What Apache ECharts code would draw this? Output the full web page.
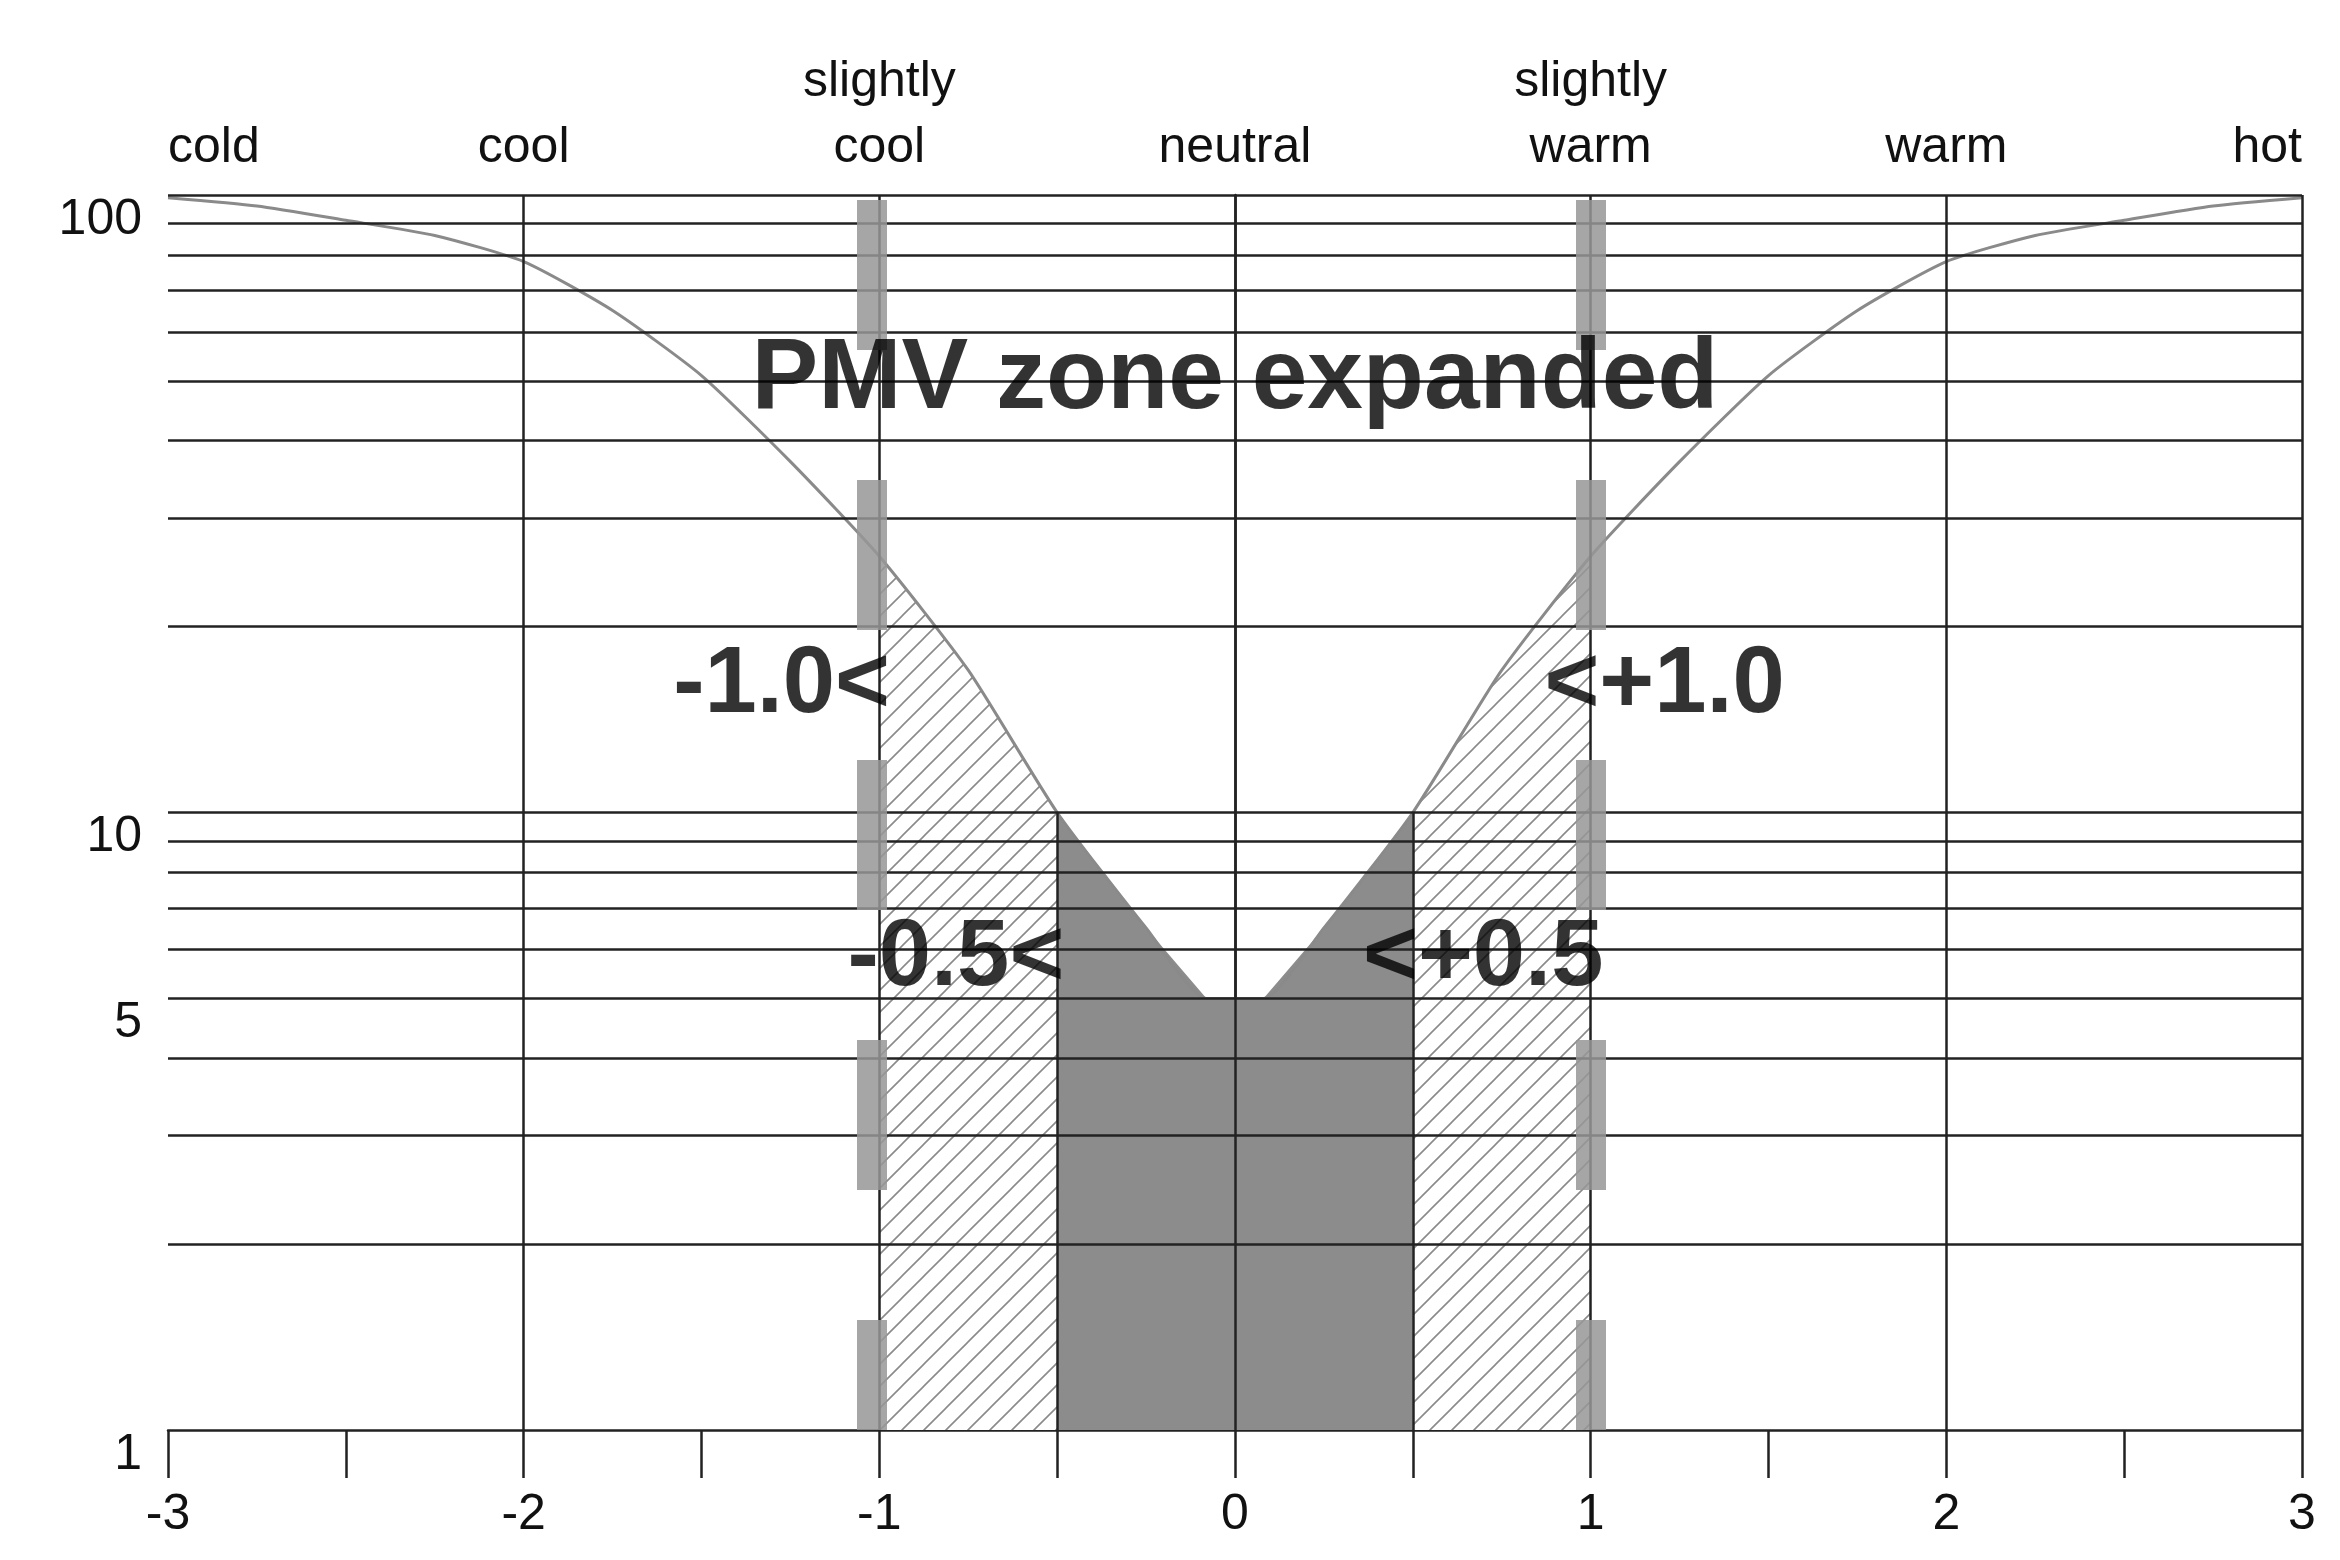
<!DOCTYPE html>
<html>
<head>
<meta charset="utf-8">
<script src="https://cdn.jsdelivr.net/npm/echarts@6/dist/echarts.min.js"></script>
<style>html,body{margin:0;background:#fff}#main{width:2340px;height:1560px}</style>
</head>
<body>
<div id="main"></div>
<script>
// PMV / PPD curve
var pmv = [-3, -2.75, -2.5, -2.25, -2, -1.75, -1.5, -1.25, -1, -0.75, -0.5, -0.25, -0.08, 0, 0.08, 0.25, 0.5, 0.75, 1, 1.25, 1.5, 1.75, 2, 2.25, 2.5, 2.75, 3];
var ppd = [99, 96, 91, 86, 78, 65, 51, 37, 26, 17, 10, 6.5, 5, 5, 5, 6.5, 10, 17, 26, 37, 51, 65, 78, 86, 91, 96, 99];
var topLabels = {'-3': 'cold', '-2': 'cool', '-1': 'slightly\ncool', '0': 'neutral', '1': 'slightly\nwarm', '2': 'warm', '3': 'hot'};
var yLabels = [1, 5, 10, 100];
var yGrid = [2, 3, 4, 5, 6, 7, 8, 9, 10, 20, 30, 40, 50, 60, 70, 80, 90, 100];
var xGrid = [-2, -1, 0, 1, 2, 3];
var notes = [
    [0, 50, 'PMV zone expanded', 'center'],
    [-0.97, 16, '-1.0<', 'right'],
    [0.87, 16, '<+1.0', 'left'],
    [-0.48, 5.8, '-0.5<', 'right'],
    [0.36, 5.8, '<+0.5', 'left']
];

function seg(a, b){
    var out = [];
    for (var i = 0; i < pmv.length; i++) {
        if (pmv[i] >= a && pmv[i] <= b) out.push([pmv[i], ppd[i]]);
    }
    return out;
}

// hatch pattern
var cv = document.createElement('canvas');
cv.width = 22; cv.height = 22;
var ctx = cv.getContext('2d');
ctx.fillStyle = '#fff'; ctx.fillRect(0, 0, 22, 22);
ctx.strokeStyle = '#8a8a8a'; ctx.lineWidth = 1.6;
ctx.beginPath();
ctx.moveTo(-2, 24); ctx.lineTo(24, -2);
ctx.moveTo(-13, 13); ctx.lineTo(13, -13);
ctx.moveTo(9, 35); ctx.lineTo(35, 9);
ctx.stroke();
var hatch = {image: cv, repeat: 'repeat'};

var font = '"Liberation Sans", Arial, sans-serif';
var myChart = echarts.init(document.getElementById('main'));
var option = {
    backgroundColor: '#fff',
    animation: false,
    grid: {left: 168, right: 38, top: 195, bottom: 130},
    xAxis: [{
        type: 'value', min: -3, max: 3, interval: 0.5,
        axisLine: {lineStyle: {color: '#222', width: 2.5}},
        axisTick: {length: 48, lineStyle: {color: '#222', width: 2.5}},
        splitLine: {show: false},
        axisLabel: {
            fontSize: 50, color: '#111', fontFamily: font, margin: 60,
            formatter: function(v){ return v % 1 === 0 ? String(v) : ''; }
        }
    }, {
        type: 'value', min: -3, max: 3, interval: 1, position: 'top',
        axisLine: {show: false}, axisTick: {show: false}, splitLine: {show: false},
        axisLabel: {
            fontSize: 50, color: '#111', fontFamily: font, margin: 14, lineHeight: 66,
            alignMinLabel: 'left', alignMaxLabel: 'right',
            formatter: function(v){ return topLabels[String(v)] || ''; }
        }
    }],
    yAxis: {
        type: 'log', logBase: 10, min: 1, max: 100,
        axisLine: {lineStyle: {color: '#222', width: 2.5}},
        axisTick: {show: false},
        splitLine: {show: false},
        minorSplitLine: {show: false},
        axisLabel: {customValues: yLabels, fontSize: 50, color: '#111', fontFamily: font, margin: 26, verticalAlign: 'top'}
    },
    series: [{
        // hatched zones
        type: 'line', data: seg(-1, -0.5), symbol: 'none', z: 1,
        lineStyle: {width: 0}, areaStyle: {color: hatch, opacity: 1}
    }, {
        type: 'line', data: seg(0.5, 1), symbol: 'none', z: 1,
        lineStyle: {width: 0}, areaStyle: {color: hatch, opacity: 1}
    }, {
        // dark zone
        type: 'line', data: seg(-0.5, 0.5), symbol: 'none', z: 1,
        lineStyle: {width: 0}, areaStyle: {color: '#8c8c8c', opacity: 1}
    }, {
        // grid lines
        type: 'line', data: [], z: 2,
        markLine: {
            silent: true, symbol: 'none', label: {show: false},
            lineStyle: {color: '#222', width: 2.5, type: 'solid'},
            data: yGrid.map(function(v){ return {yAxis: v}; })
                .concat(xGrid.map(function(v){ return {xAxis: v}; }))
                .concat([
                    [{coord: [-0.5, 1]}, {coord: [-0.5, 10]}],
                    [{coord: [0.5, 1]}, {coord: [0.5, 10]}]
                ])
        }
    }, {
        // grey dashed bars
        type: 'line', data: [], z: 3,
        markLine: {
            silent: true, symbol: 'none', label: {show: false},
            lineStyle: {color: 'rgba(150,150,150,0.85)', width: 30, type: [150, 130], dashOffset: 40},
            data: [{xAxis: -1.02}, {xAxis: 1.0}]
        }
    }, {
        // PPD curve
        type: 'line', data: pmv.map(function(v, i){ return [v, ppd[i]]; }),
        symbol: 'none', smooth: 0.2, z: 4,
        lineStyle: {color: '#8a8a8a', width: 3}
    }, {
        // annotations
        type: 'scatter', symbolSize: 0, z: 5, silent: true,
        data: notes.map(function(n, i){
            return {value: [n[0], n[1]], label: {
                show: true, position: 'inside', formatter: n[2], align: n[3],
                color: '#000', textBorderWidth: 0, fontSize: i === 0 ? 100 : 94,
                fontWeight: 'bold', fontFamily: font
            }};
        })
    }]
};
myChart.setOption(option);
</script>
</body>
</html>
